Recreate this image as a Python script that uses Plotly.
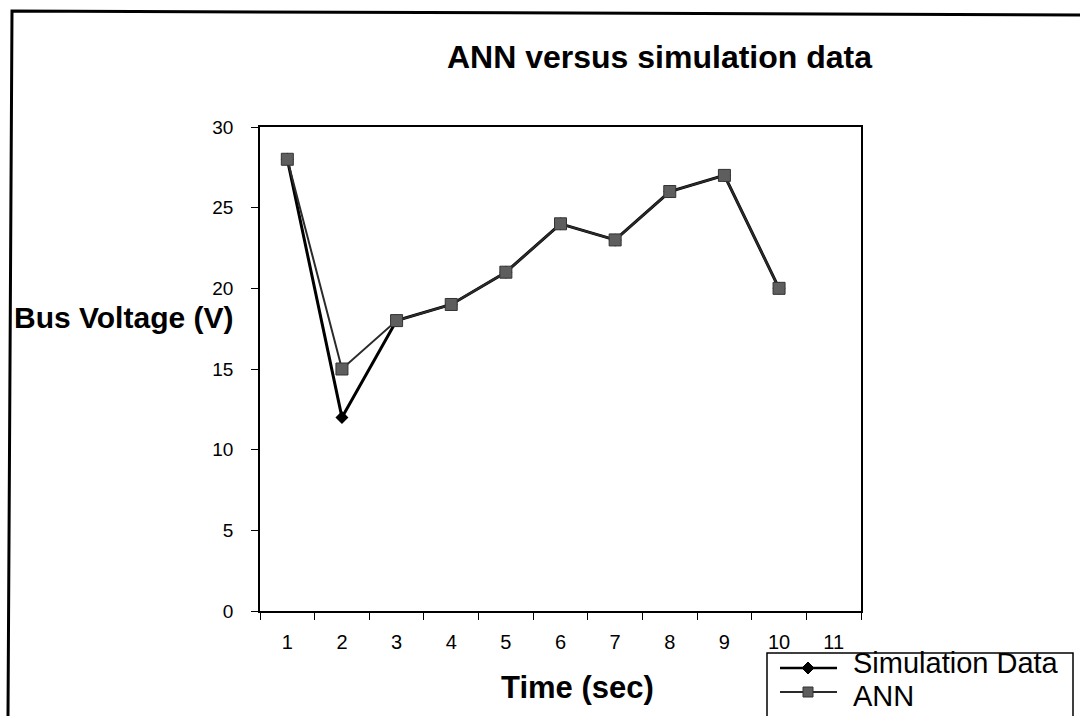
import plotly.graph_objects as go

# ---- data ----
time_sec = [1, 2, 3, 4, 5, 6, 7, 8, 9, 10]
simulation_data = [28, 12, 18, 19, 21, 24, 23, 26, 27, 20]
ann_data = [28, 15, 18, 19, 21, 24, 23, 26, 27, 20]
x_categories = [1, 2, 3, 4, 5, 6, 7, 8, 9, 10, 11]
y_ticks = [0, 5, 10, 15, 20, 25, 30]

W, H = 1080, 716
L, R, T, B = 260, 861, 127, 611
FONT = "Arial, Liberation Sans, sans-serif"


def px(x):
    return (x - L) / (R - L)


def py(y):
    return (B - y) / (B - T)


fig = go.Figure()
fig.add_trace(go.Scatter(
    x=time_sec, y=simulation_data, mode="lines+markers", name="Simulation Data",
    line=dict(color="#000000", width=3),
    marker=dict(symbol="diamond", size=10, color="#000000"),
    showlegend=False, cliponaxis=False,
))
fig.add_trace(go.Scatter(
    x=time_sec, y=ann_data, mode="lines+markers", name="ANN",
    line=dict(color="#2a2a2a", width=2),
    marker=dict(symbol="square", size=12, color="#5e5e5e",
                line=dict(color="#333333", width=1)),
    showlegend=False, cliponaxis=False,
))

shapes = []
annotations = []

# outer frame (top + left, as in the scanned page)
shapes.append(dict(type="path", xref="paper", yref="paper",
                   path=f"M {px(1080)},{py(15)} L {px(12)},{py(11)} L {px(8)},{py(716)}",
                   line=dict(color="#000000", width=3)))

# manual legend
lx0, ly0, lx1, ly1 = 767, 653, 1073, 722
shapes.append(dict(type="rect", xref="paper", yref="paper",
                   x0=px(lx0), y0=py(ly0), x1=px(lx1), y1=py(ly1),
                   line=dict(color="#000000", width=1.5), fillcolor="white", layer="above"))
# simulation sample
shapes.append(dict(type="line", xref="paper", yref="paper",
                   x0=px(780), y0=py(668), x1=px(837), y1=py(668),
                   line=dict(color="#000000", width=2.5)))
d = 6
shapes.append(dict(type="path", xref="paper", yref="paper",
                   path=f"M {px(808-d)},{py(668)} L {px(808)},{py(668-d)} L {px(808+d)},{py(668)} L {px(808)},{py(668+d)} Z",
                   fillcolor="#000000", line=dict(color="#000000", width=1)))
# ANN sample
shapes.append(dict(type="line", xref="paper", yref="paper",
                   x0=px(780), y0=py(692), x1=px(837), y1=py(692),
                   line=dict(color="#2a2a2a", width=2)))
s = 5
shapes.append(dict(type="rect", xref="paper", yref="paper",
                   x0=px(808-s), y0=py(692+s), x1=px(808+s), y1=py(692-s),
                   fillcolor="#5e5e5e", line=dict(color="#333333", width=1)))
annotations.append(dict(text="Simulation Data", xref="paper", yref="paper",
                        x=px(851), y=py(663), xanchor="left", yanchor="middle",
                        showarrow=False, font=dict(family=FONT, size=29, color="#000000")))
annotations.append(dict(text="ANN", xref="paper", yref="paper",
                        x=px(851), y=py(696), xanchor="left", yanchor="middle",
                        showarrow=False, font=dict(family=FONT, size=29, color="#000000")))

# titles
annotations.append(dict(text="<b>ANN versus simulation data</b>", xref="paper", yref="paper",
                        x=px(659), y=py(57), xanchor="center", yanchor="middle",
                        showarrow=False, font=dict(family=FONT, size=32, color="#000000")))
annotations.append(dict(text="<b>Bus Voltage (V)</b>", xref="paper", yref="paper",
                        x=px(12), y=py(317), xanchor="left", yanchor="middle",
                        showarrow=False, font=dict(family=FONT, size=30, color="#000000")))
annotations.append(dict(text="<b>Time (sec)</b>", xref="paper", yref="paper",
                        x=px(577), y=py(687), xanchor="center", yanchor="middle",
                        showarrow=False, font=dict(family=FONT, size=31, color="#000000")))

fig.update_layout(
    width=W, height=H,
    margin=dict(l=L, r=W - R, t=T, b=H - B, pad=0),
    paper_bgcolor="white", plot_bgcolor="white",
    font=dict(family=FONT, size=20, color="#000000"),
    shapes=shapes, annotations=annotations,
    showlegend=False,
)
fig.update_xaxes(
    range=[0.5, 11.5], tickmode="array", tickvals=x_categories,
    ticktext=[str(c) for c in x_categories], ticks="",
    showline=True, linecolor="#000000", linewidth=1.5, mirror=True,
    showgrid=False, zeroline=False, ticklabelstandoff=12,
    tickfont=dict(family=FONT, size=20, color="#000000"),
    minor=dict(tickmode="linear", tick0=0.5, dtick=1, ticks="outside",
               ticklen=7, tickcolor="#000000", tickwidth=1.2, showgrid=False),
)
fig.update_yaxes(
    range=[0, 30], tickmode="array", tickvals=y_ticks, ticks="outside",
    ticklen=7, tickcolor="#000000", tickwidth=1.2,
    showline=True, linecolor="#000000", linewidth=1.5, mirror=True,
    showgrid=False, zeroline=False, ticklabelstandoff=14,
    tickfont=dict(family=FONT, size=19, color="#000000"),
)

fig.write_html("out.html")
